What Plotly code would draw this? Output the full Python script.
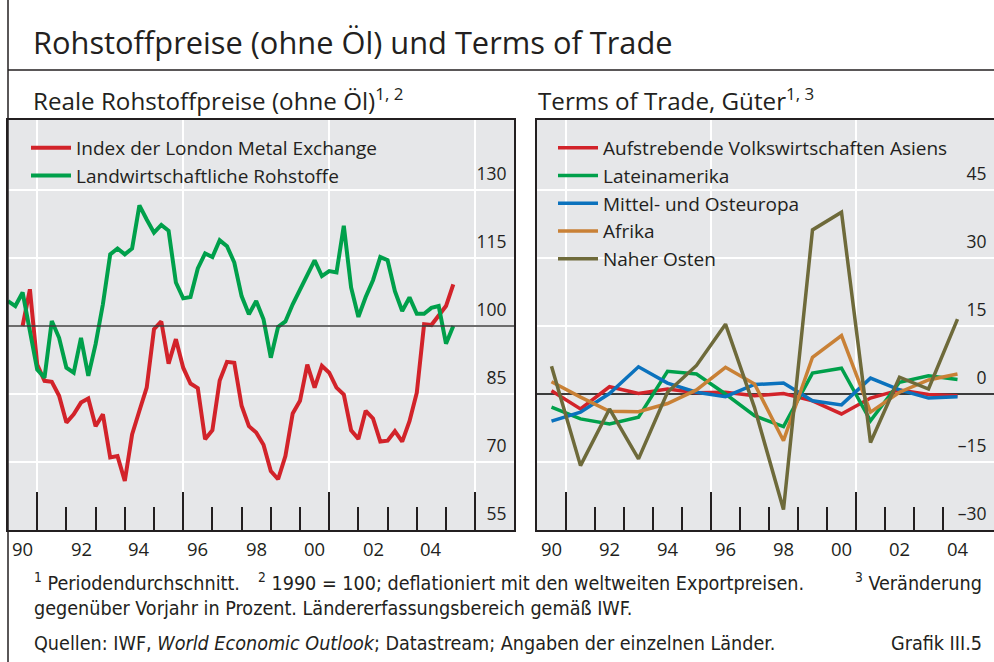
import plotly.graph_objects as go

W, H = 994, 662
DARK = "#231f20"
BG = "#e6e7e9"
GRID = "#ffffff"
FONT = "Open Sans, Liberation Sans, Arial, sans-serif"
NARROW = "Liberation Sans Narrow, DejaVu Sans Condensed, Arial Narrow, sans-serif"

RED = "#d2232a"
GREEN = "#00a04b"
BLUE = "#0b72bd"
ORANGE = "#c98136"
OLIVE = "#6e6a3a"

# ---------------- Left panel: quarterly data (index, 1990 = 100) ----------------
agri_start = 1990.0
agri = [105.5, 104.4, 107.4, 99.0, 90.4, 88.6, 101.1, 97.4, 90.8, 89.7, 97.4, 89.0,
        96.0, 104.8, 115.8, 117.1, 115.8, 117.1, 126.6, 123.5, 120.6, 122.3, 121.0, 109.6,
        106.1, 106.4, 112.7, 116.0, 115.2, 118.9, 117.6, 114.0, 106.6, 102.6, 105.5, 101.5,
        93.0, 99.8, 101.0, 104.8, 108.1, 111.4, 114.5, 111.0, 112.1, 111.8, 122.1, 108.5,
        102.0, 106.4, 110.1, 115.2, 114.5, 107.7, 103.3, 106.3, 102.7, 102.7, 104.0, 104.4,
        96.1, 100.0]
lme_start = 1990.5
lme = [100.0, 108.1, 91.5, 87.9, 87.7, 84.6, 78.7, 80.5, 83.1, 84.0, 77.9, 80.5,
       71.0, 71.3, 65.8, 76.1, 81.3, 86.4, 99.3, 101.0, 91.7, 97.1, 90.8, 87.3,
       86.3, 75.0, 77.0, 88.0, 92.1, 91.9, 82.4, 77.9, 76.5, 73.8, 68.0, 66.2,
       71.3, 80.7, 83.5, 91.5, 86.4, 91.2, 89.7, 86.4, 84.9, 77.0, 75.1, 81.3,
       79.6, 74.5, 74.7, 76.8, 74.5, 79.0, 85.3, 100.4, 100.2, 102.2, 104.4, 109.2]

# ---------------- Right panel: annual % change ----------------
years = list(range(1990, 2005))
asien = [0.7, -3.3, 1.6, 0.1, 1.1, 0.3, 0.4, -0.4, 0.1, -1.5, -4.4, -0.9, 0.9, -0.1, -0.4]
latein = [-2.9, -5.5, -6.6, -5.1, 5.0, 4.4, 0.0, -4.8, -7.2, 4.6, 5.7, -5.9, 2.6, 4.0, 3.2]
mittelost = [-6.0, -4.0, 0.1, 6.0, 2.4, 0.4, -0.6, 2.1, 2.4, -1.5, -2.4, 3.5, 0.9, -0.9, -0.6]
afrika = [2.7, -0.7, -3.8, -3.9, -2.1, 0.9, 5.9, 2.2, -10.3, 8.1, 12.9, -4.0, 0.4, 3.1, 4.4]
nahost = [6.1, -15.8, -3.3, -14.3, 0.4, 6.3, 15.4, -3.0, -25.5, 36.2, 40.1, -10.7, 3.7, 1.1, 16.5]

left_ticks = [55, 70, 85, 100, 115, 130]
right_ticks = [-30, -15, 0, 15, 30, 45]
right_ticktext = ["\u201330", "\u201315", "0", "15", "30", "45"]
label_years = [1990, 1992, 1994, 1996, 1998, 2000, 2002, 2004]
label_text = ["90", "92", "94", "96", "98", "00", "02", "04"]

# x positions (quarters / mid-year)
x_agri = [agri_start + 0.25 * i for i in range(len(agri))]
x_lme = [lme_start + 0.25 * i for i in range(len(lme))]
x_ann = [y + 0.5 for y in years]


def px(x):
    return x / W


def py(y):
    return 1 - y / H


fig = go.Figure()
fig.add_trace(go.Scatter(x=x_lme, y=lme, mode="lines", name="Index der London Metal Exchange",
                         line=dict(color=RED, width=4), xaxis="x", yaxis="y", legend="legend"))
fig.add_trace(go.Scatter(x=x_agri, y=agri, mode="lines", name="Landwirtschaftliche Rohstoffe",
                         line=dict(color=GREEN, width=4), xaxis="x", yaxis="y", legend="legend"))

for name, vals, col in [
    ("Aufstrebende Volkswirtschaften Asiens", asien, RED),
    ("Lateinamerika", latein, GREEN),
    ("Mittel- und Osteuropa", mittelost, BLUE),
    ("Afrika", afrika, ORANGE),
    ("Naher Osten", nahost, OLIVE),
]:
    fig.add_trace(go.Scatter(x=x_ann, y=vals, mode="lines", name=name,
                             line=dict(color=col, width=3.5), xaxis="x2", yaxis="y2", legend="legend2"))

L0, L1 = 8, 514
R0, R1 = 537, 994
T, B = 120, 530
PPY_L = 29.2
PPY_R = 29.0
PPU = 68 / 15.0

xl_range = [1990, 1990 + (L1 - L0) / PPY_L]
xr_range = [1990, 1990 + (R1 - R0) / PPY_R]

common_x = dict(
    tickmode="array", ticks="inside", ticklen=38, tickwidth=2, tickcolor=DARK,
    showticklabels=False, showgrid=True, gridcolor=GRID, gridwidth=2,
    showline=True, linecolor=DARK, linewidth=2, mirror=True, zeroline=False,
)
common_y = dict(
    side="right", tickmode="array", ticks="", ticklabelposition="inside",
    ticklabelshift=-16, ticklabelstandoff=8,
    showgrid=True, gridcolor=GRID, gridwidth=2,
    showline=True, linecolor=DARK, linewidth=2, mirror=True,
    tickfont=dict(size=17.5, color=DARK, family=FONT),
)

fig.update_layout(
    width=W, height=H,
    margin=dict(l=0, r=0, t=0, b=0),
    paper_bgcolor="white", plot_bgcolor=BG,
    font=dict(family=FONT, color=DARK),
    xaxis=dict(domain=[px(L0), px(L1)], range=xl_range, anchor="y",
               tickvals=[1991, 1996, 2001, 2006],
               minor=dict(tickmode="array", tickvals=list(range(1991, 2007)), ticks="inside",
                          ticklen=23, tickwidth=2, tickcolor=DARK, showgrid=False),
               **common_x),
    yaxis=dict(domain=[py(B), py(T)], range=[55, 55 + (B - T) / PPU], anchor="x",
               tickvals=left_ticks, zeroline=False, **common_y),
    xaxis2=dict(domain=[px(R0), px(R1)], range=xr_range, anchor="y2",
                tickvals=[1991, 1996, 2001],
                minor=dict(tickmode="array", tickvals=list(range(1991, 2005)), ticks="inside",
                           ticklen=23, tickwidth=2, tickcolor=DARK, showgrid=False),
                **common_x),
    yaxis2=dict(domain=[py(B), py(T)], range=[-30, -30 + (B - T) / PPU], anchor="x2",
                tickvals=right_ticks, ticktext=right_ticktext,
                zeroline=True, zerolinecolor="#3c3c3c", zerolinewidth=1.5, **common_y),
    legend=dict(x=px(26), y=py(129), xanchor="left", yanchor="top", bgcolor="rgba(0,0,0,0)",
                font=dict(size=19, color=DARK, family=FONT), itemwidth=40,
                borderwidth=0),
    legend2=dict(x=px(553), y=py(129), xanchor="left", yanchor="top", bgcolor="rgba(0,0,0,0)",
                 font=dict(size=19, color=DARK, family=FONT), itemwidth=40,
                 borderwidth=0),
    showlegend=True,
)

shapes = [
    dict(type="line", xref="paper", yref="y", x0=px(L0), x1=px(L1), y0=100, y1=100,
         line=dict(color="#3c3c3c", width=1.5), layer="above"),
    # frame lines
    dict(type="line", xref="paper", yref="paper", x0=px(L0), x1=px(L0), y0=0, y1=1,
         line=dict(color=DARK, width=1.5), layer="above"),
    dict(type="line", xref="paper", yref="paper", x0=px(L0), x1=1, y0=py(70), y1=py(70),
         line=dict(color=DARK, width=1.5), layer="above"),
]
fig.update_layout(shapes=shapes)

ann = [
    dict(text="Rohstoffpreise (ohne Öl) und Terms of Trade", x=px(31), y=py(42),
         font=dict(size=30.8, color=DARK, family=FONT)),
    dict(text="Reale Rohstoffpreise (ohne Öl)<sup>1, 2</sup>", x=px(31), y=py(100),
         font=dict(size=24.2, color=DARK, family=FONT)),
    dict(text="Terms of Trade, Güter<sup>1, 3</sup>", x=px(536), y=py(100),
         font=dict(size=24.2, color=DARK, family=FONT)),
    dict(text="<sup>1</sup> Periodendurchschnitt.", x=px(32), y=py(582),
         font=dict(size=19.6, color=DARK, family=NARROW)),
    dict(text="<sup>2</sup> 1990 = 100; deflationiert mit den weltweiten Exportpreisen.", x=px(256), y=py(582),
         font=dict(size=19.6, color=DARK, family=NARROW)),
    dict(text="<sup>3</sup> Veränderung", x=px(984), y=py(582), xanchor="right",
         font=dict(size=19.6, color=DARK, family=NARROW)),
    dict(text="gegenüber Vorjahr in Prozent. Ländererfassungsbereich gemäß IWF.", x=px(32), y=py(608),
         font=dict(size=19.6, color=DARK, family=NARROW)),
    dict(text="Quellen: IWF, <i>World Economic Outlook</i>; Datastream; Angaben der einzelnen Länder.",
         x=px(32), y=py(643), font=dict(size=19.6, color=DARK, family=NARROW)),
    dict(text="Grafik III.5", x=px(984), y=py(643), xanchor="right",
         font=dict(size=19.6, color=DARK, family=NARROW)),
]
for a in ann:
    a.setdefault("xanchor", "left")
    a.update(xref="paper", yref="paper", yanchor="middle", showarrow=False)

# x-axis year labels, centred in each labelled year
for xr in ("x", "x2"):
    for yr, lab in zip(label_years, label_text):
        ann.append(dict(text=lab, x=yr + 0.5, xref=xr, y=py(548), yref="paper",
                        xanchor="center", yanchor="middle", showarrow=False,
                        font=dict(size=18.5, color=DARK, family=FONT)))
fig.update_layout(annotations=ann)

fig.write_html("out.html", post_script="document.body.style.margin='0';",
               config={"displayModeBar": False})
